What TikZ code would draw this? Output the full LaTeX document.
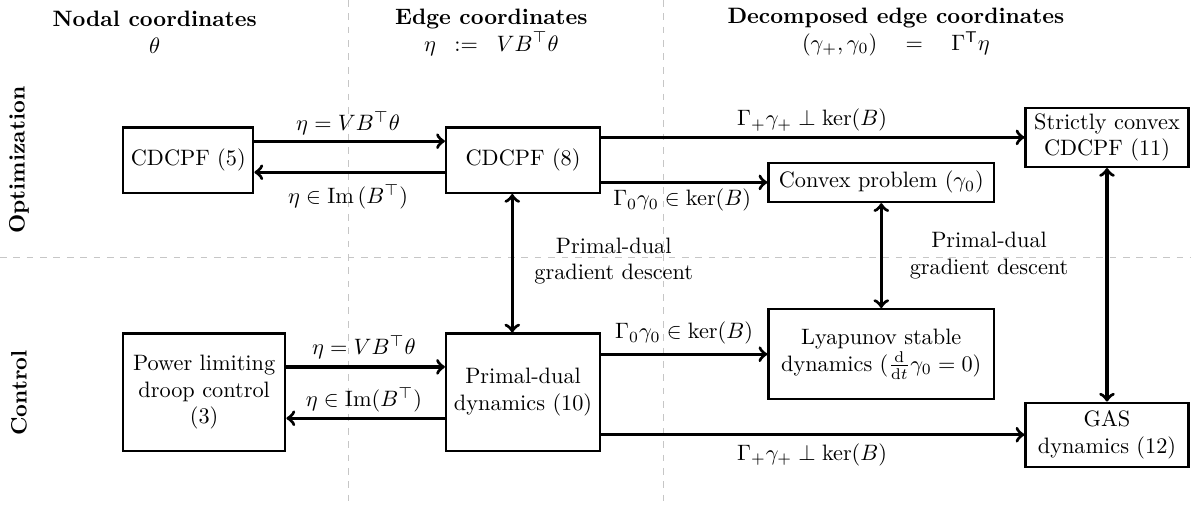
\documentclass[tikz,border=0pt]{standalone}
\usepackage{amsmath,amssymb}
\usepackage{tikz}
\usetikzlibrary{calc}
\tikzset{
  blk/.style={draw, line width=1pt, align=center, inner sep=2pt},
  arr/.style={->, line width=1.5pt},
  biarr/.style={<->, line width=1.5pt},
  sep/.style={draw=gray!45, dashed, line width=0.4pt},
  hdr/.style={align=center},
  side/.style={rotate=90, font=\bfseries}
}

\begin{document}
\begin{tikzpicture}
\useasboundingbox (0,0) rectangle (18.785,8.107);
% column and row separators
\draw[sep] (5.50,8.107) -- (5.50,0.1);
\draw[sep] (10.46,8.107) -- (10.46,0.1);
\draw[sep] (0,4.04) -- (18.785,4.04);

% column headers
\node[hdr] (hnod) at (2.44,7.6) {\textbf{Nodal coordinates}\\$\theta$};
\node[hdr] (hedg) at (7.75,7.6) {\textbf{Edge coordinates}\\$\eta \;\;:=\;\; VB^\top\theta$};
\node[hdr] (hdec) at (14.13,7.6) {\textbf{Decomposed edge coordinates}\\$(\gamma_+,\gamma_0) \quad = \quad \Gamma^\mathsf{T}\eta$};

% row labels
\node[side] (ropt) at (0.30,5.58) {Optimization};
\node[side] (rctl) at (0.30,1.91) {Control};

% optimization row
\node[blk, minimum width=2.05cm, minimum height=1.03cm] (c5) at (2.97,5.58) {CDCPF (5)};
\node[blk, minimum width=2.43cm, minimum height=1.03cm] (c8) at (8.25,5.58) {CDCPF (8)};
\node[blk, minimum width=3.56cm, minimum height=0.62cm] (cvx) at (13.90,5.23) {Convex problem ($\gamma_0$)};
\node[blk, minimum width=2.57cm, minimum height=0.93cm] (c11) at (17.46,5.94) {Strictly convex\\CDCPF (11)};

% control row
\node[blk, minimum width=2.56cm, minimum height=1.85cm] (droop) at (3.22,1.92) {Power limiting\\droop control\\(3)};
\node[blk, minimum width=2.43cm, minimum height=1.85cm] (pd) at (8.25,1.92) {Primal-dual\\dynamics (10)};
\node[blk, minimum width=3.56cm, minimum height=1.42cm] (lyap) at (13.90,2.52) {Lyapunov stable\\dynamics ($\frac{\mathrm{d}}{\mathrm{d}t}\gamma_0 = 0$)};
\node[blk, minimum width=2.57cm, minimum height=1.01cm] (gas) at (17.46,1.25) {GAS\\dynamics (12)};

% horizontal arrows
\draw[arr] ([yshift=0.30cm]c5.east) -- ([yshift=0.30cm]c8.west);
\draw[arr] ([yshift=-0.19cm]c8.west) -- ([yshift=-0.19cm]c5.east);
\draw[arr] (c8.east |- c11.west) -- (c11.west);
\draw[arr] (c8.east |- cvx.west) -- (cvx.west);
\draw[arr] ([yshift=0.40cm]droop.east) -- ([yshift=0.40cm]pd.west);
\draw[arr] ([yshift=-0.41cm]pd.west) -- ([yshift=-0.41cm]droop.east);
\draw[arr] (pd.east |- lyap.west) -- (lyap.west);
\draw[arr] (pd.east |- gas.west) -- (gas.west);

% vertical arrows
\draw[biarr] ([xshift=-0.17cm]c8.south) -- ([xshift=-0.17cm]pd.north);
\draw[biarr] (cvx.south) -- (lyap.north);
\draw[biarr] (c11.south) -- (gas.north);

% arrow labels
\node (l1) at (5.49,6.17) {$\eta = VB^\top\theta$};
\node (l2) at (5.49,5.00) {$\eta \in \mathrm{Im}\,(B^\top)$};
\node (l3) at (5.74,2.63) {$\eta = VB^\top\theta$};
\node (l4) at (5.74,1.80) {$\eta \in \mathrm{Im}(B^\top)$};
\node (l5) at (12.81,6.21) {$\Gamma_+\gamma_+ \perp \ker(B)$};
\node (l6) at (10.76,4.95) {$\Gamma_0\gamma_0 \in \ker(B)$};
\node (l7) at (10.79,2.85) {$\Gamma_0\gamma_0 \in \ker(B)$};
\node (l8) at (12.81,0.93) {$\Gamma_+\gamma_+ \perp \ker(B)$};
\node[align=center] (pdg1) at (9.68,3.99) {Primal-dual\\gradient descent};
\node[align=center] (pdg2) at (15.60,4.08) {Primal-dual\\gradient descent};
\end{tikzpicture}
\end{document}
